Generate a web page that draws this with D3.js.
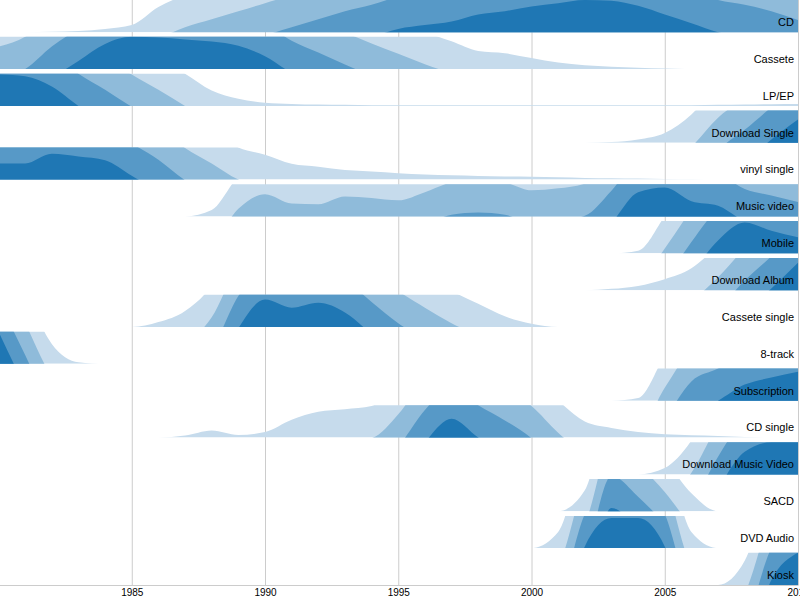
<!DOCTYPE html>
<html>
<head>
<meta charset="utf-8">
<script src="https://cdn.jsdelivr.net/npm/d3@7"></script>
<style>
  body { margin: 0; background: #fff; }
  svg { display: block; font-family: "Liberation Sans", Arial, Helvetica, sans-serif; }
</style>
</head>
<body>
<svg id="chart" width="800" height="600"></svg>
<script>
// ---- data: value of each format as % of its own peak, per year ----
const years = [1980,1981,1982,1983,1984,1985,1986,1987,1988,1989,1990,1991,1992,1993,1994,1995,1996,1997,1998,1999,2000,2001,2002,2003,2004,2005,2006,2007,2008,2009,2010];

const formats = ["CD","Cassete","LP/EP","Download Single","vinyl single","Music video","Mobile","Download Album","Cassete single","8-track","Subscription","CD single","Download Music Video","SACD","DVD Audio","Kiosk"];

const cd = [0,0,0.3,1,2.5,5.5,19.5,28.8,35,41.3,47.5,53.8,60,66.3,71.3,77.5,80.5,83.3,88.8,91.3,95,97.5,100,99.5,95.5,88.8,82,75,71.3,66.3,59.5];
const cassete = [42.5,50,67.5,81.3,94.5,100,99.5,98,96.3,93,85,72,62.8,53.5,44.8,36.8,28.8,21.5,14,12.3,8.5,5,3,1.8,1,0.4,0,0,0,0,0];
const lpEp = [99.5,98,90,75,62.5,49.3,37.5,25,12,5.5,2.5,1.5,1,0.8,0.5,0.5,0.5,0.5,0.5,0.5,0.5,0.5,0.5,0.5,0.5,0.5,0.5,0.8,1,1.3,1.5];
const downloadSingle = [0,0,0,0,0,0,0,0,0,0,0,0,0,0,0,0,0,0,0,0,0,0,0,0.5,2.5,7.5,22,44.5,60,77.5,93];
const vinylSingle = [87.5,87.5,95,93,90,78,65.5,49.5,37.5,25,19.3,12.3,10,7.5,6.3,5,4,3.3,2.8,2.5,2.3,1.8,1.3,1,0.8,0.5,0.3,0.1,0,0,0];
const musicVideo = [0,0,0,0,0,0,0,0,5,31,42.3,35,34.5,40.5,39.3,37.5,43.8,51.3,53,51.3,45.3,46.8,50.5,70,93.8,97.5,86.8,83.3,71.3,66.3,61.3];
const mobile = [0,0,0,0,0,0,0,0,0,0,0,0,0,0,0,0,0,0,0,0,0,0,0,0,2,28.8,58.8,85,99,92.5,87.5];
const downloadAlbum = [0,0,0,0,0,0,0,0,0,0,0,0,0,0,0,0,0,0,0,0,0,0,0,1,3.3,8.5,17,35,57.5,76.3,96.3];
const casseteSingle = [0,0,0,0,0,0,3.8,12.5,32.5,74,96.3,90,93.8,86.3,69.5,53,40,28,18,8.3,2.5,0,0,0,0,0,0,0,0,0,0];
const eightTrack = [100,56.8,15.5,1.3,0,0,0,0,0,0,0,0,0,0,0,0,0,0,0,0,0,0,0,0,0,0,0,0,0,0,0];
const subscription = [0,0,0,0,0,0,0,0,0,0,0,0,0,0,0,0,0,0,0,0,0,0,0,0,2,35,65,75,87.5,93,97.5];
const cdSingle = [0,0,0,0,0,0,0,1.5,5.5,2,4.3,13.8,20,22,24.5,43,71.3,89.5,75,63.3,49.5,28.8,12.5,7.5,4.3,2.5,1.8,1.3,0.5,0,0];
const downloadMusicVideo = [0,0,0,0,0,0,0,0,0,0,0,0,0,0,0,0,0,0,0,0,0,0,0,0,0,5,26.3,63.8,92.5,100,100];
const sacd = [0,0,0,0,0,0,0,0,0,0,0,0,0,0,0,0,0,0,0,0,0,0,16.3,77.5,61.3,40,14,0,0,0,0];
const dvdAudio = [0,0,0,0,0,0,0,0,0,0,0,0,0,0,0,0,0,0,0,0,0,12.5,76.3,98.3,98.3,76.3,12.5,0,0,0,0];
const kiosk = [0,0,0,0,0,0,0,0,0,0,0,0,0,0,0,0,0,0,0,0,0,0,0,0,0,0,0,0,18.8,78.8,100];

const series = [cd, cassete, lpEp, downloadSingle, vinylSingle, musicVideo, mobile, downloadAlbum,
                casseteSingle, eightTrack, subscription, cdSingle, downloadMusicVideo, sacd, dvdAudio, kiosk];

const tickYears = [1985, 1990, 1995, 2000, 2005, 2010];

// ---- layout / style ----
const W = 800, H = 600;
const rowStep = 36.85, rowH = 32.2, axisY = 585;
const nBands = 4;
const bandColors = ["#c6dbec", "#8fbbda", "#5799c7", "#1f77b4"];

const svg = d3.select("#chart");

const x = d3.scaleLinear([1980, 2010], [-1.5, 798]);
const y = d3.scaleLinear([0, 100 / nBands], [rowH, 0]);

// axis with gridlines (behind the rows)
const axis = d3.axisBottom(x)
  .tickValues(tickYears)
  .tickFormat(d3.format("d"))
  .tickSize(-axisY)
  .tickSizeOuter(0)
  .tickPadding(4);

const gAxis = svg.append("g")
  .attr("transform", `translate(0,${axisY})`)
  .call(axis);
gAxis.select(".domain").attr("stroke", "#ccc");
gAxis.selectAll(".tick line").attr("stroke", "#ccc");
gAxis.selectAll(".tick text")
  .attr("fill", "#000")
  .style("font-size", "10px")
  .style("font-family", '"Liberation Sans", Arial, sans-serif');

const area = d3.area()
  .curve(d3.curveMonotoneX)
  .x((d, i) => x(years[i]))
  .y0(rowH)
  .y1(d => y(d));

const defs = svg.append("defs");

formats.forEach((name, i) => {
  const g = svg.append("g").attr("transform", `translate(0,${i * rowStep})`);
  defs.append("clipPath").attr("id", "clip" + i)
    .append("rect").attr("x", 0).attr("y", 0).attr("width", W).attr("height", rowH);
  const inner = g.append("g").attr("clip-path", `url(#clip${i})`);
  d3.range(nBands).forEach(b => {
    inner.append("path")
      .attr("transform", `translate(0,${b * rowH})`)
      .attr("fill", bandColors[b])
      .attr("d", area(series[i]));
  });
  g.append("text")
    .attr("x", 794)
    .attr("y", 26)
    .attr("text-anchor", "end")
    .attr("fill", "#000")
    .style("font-size", "11px")
    .text(name);
});
</script>
</body>
</html>
